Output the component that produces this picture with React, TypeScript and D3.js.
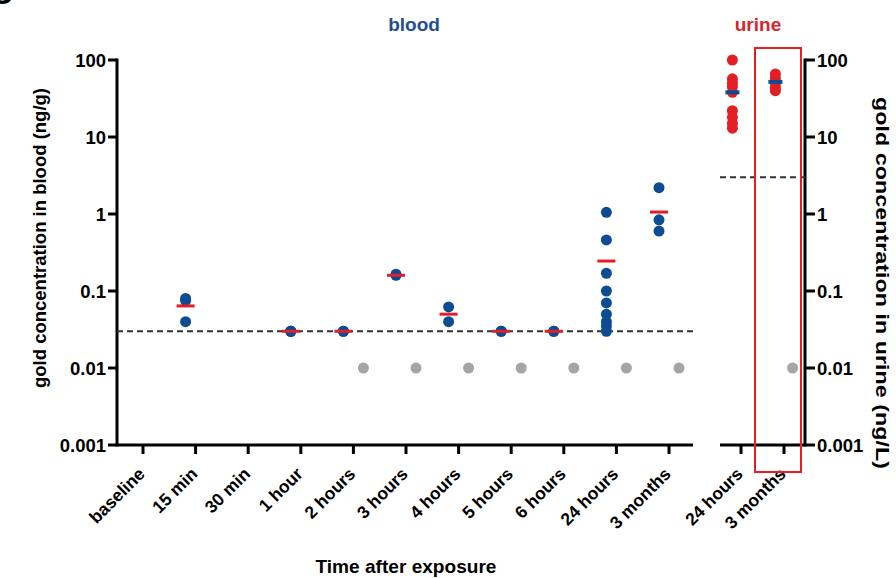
import { useEffect } from 'react';
import * as d3 from 'd3';

const bloodCategories = [
  'baseline', '15 min', '30 min', '1 hour', '2 hours', '3 hours',
  '4 hours', '5 hours', '6 hours', '24 hours', '3 months',
];
const bloodValues: number[][] = [
  [],
  [0.08, 0.075, 0.04],
  [],
  [0.03, 0.03, 0.03],
  [0.03, 0.03],
  [0.16, 0.165],
  [0.062, 0.04],
  [0.03, 0.03],
  [0.03, 0.03],
  [1.05, 0.46, 0.17, 0.1, 0.07, 0.05, 0.04, 0.035, 0.03],
  [2.2, 0.84, 0.6],
];
const bloodMeans: (number | null)[] = [null, 0.064, null, 0.03, 0.03, 0.16, 0.05, 0.03, 0.03, 0.245, 1.06];
const bloodNotDetected = ['2 hours', '3 hours', '4 hours', '5 hours', '6 hours', '24 hours', '3 months'];

const urineCategories = ['24 hours', '3 months'];
const urineValues: number[][] = [
  [100, 57, 50, 45, 38, 22, 18, 15, 13],
  [66, 58, 50, 44, 40],
];
const urineMeans = [38, 52];
const urineNotDetected = ['3 months'];

const notDetectedValue = 0.01;
const bloodLod = 0.03;
const urineLod = 3;
const yTicks = [0.001, 0.01, 0.1, 1, 10, 100];

const W = 896;
const H = 578;
const BLUE = '#0d4c93';
const RED = '#e31e24';
const GREY = '#a5a5a5';
const FONT = '"Liberation Sans", Arial, sans-serif';

export default function App() {
  useEffect(() => {
    document.body.style.margin = '0';
  }, []);

  const y = d3.scaleLog().domain([0.001, 100]).range([445, 60]);
  const xBlood = d3.scalePoint<string>().domain(bloodCategories).range([143, 669]);
  const xUrine = d3.scalePoint<string>().domain(urineCategories).range([741, 784]);
  const fmt = d3.format('~g');

  const bloodShift = xBlood.step() * 0.19;
  const urineShift = xUrine.step() * 0.2;

  const bloodLeft = 117;
  const bloodRight = 693;
  const urineLeft = 720;
  const urineRight = 805;

  return (
    <svg width={W} height={H} style={{ display: 'block', background: '#fff' }} fontFamily={FONT}>
      {/* panel letter, cut at the top edge */}
      <text x={-9} y={4} fontSize={30} fontWeight="bold">C</text>

      <text x={414} y={31} textAnchor="middle" fontSize={19} fontWeight="bold" fill="#1f4f8f">blood</text>
      <text x={758} y={31} textAnchor="middle" fontSize={19} fontWeight="bold" fill="#d9252d">urine</text>

      {/* blood panel axes */}
      <line x1={bloodLeft} x2={bloodLeft} y1={y(100) - 1.5} y2={y(0.001) + 1.5} stroke="#000" strokeWidth={3} />
      <line x1={bloodLeft} x2={bloodRight} y1={y(0.001)} y2={y(0.001)} stroke="#000" strokeWidth={3} />
      {yTicks.map((t) => (
        <g key={'ly' + t}>
          <line x1={bloodLeft - 9} x2={bloodLeft} y1={y(t)} y2={y(t)} stroke="#000" strokeWidth={3} />
          <text x={bloodLeft - 11} y={y(t)} dy="0.36em" textAnchor="end" fontSize={18.5} fontWeight="bold">{fmt(t)}</text>
        </g>
      ))}
      {bloodCategories.map((c) => (
        <g key={'bx' + c}>
          <line x1={xBlood(c)} x2={xBlood(c)} y1={y(0.001)} y2={y(0.001) + 9} stroke="#000" strokeWidth={3} />
          <text
            transform={`translate(${xBlood(c)! + 3},475) rotate(-45)`}
            textAnchor="end"
            fontSize={17.5}
            fontWeight="bold"
          >
            {c}
          </text>
        </g>
      ))}

      {/* blood limit of detection */}
      <line x1={bloodLeft} x2={bloodRight} y1={y(bloodLod)} y2={y(bloodLod)} stroke="#333" strokeWidth={2} strokeDasharray="6,4" />

      {bloodNotDetected.map((c) => (
        <circle key={'bn' + c} cx={xBlood(c)! + bloodShift} cy={y(notDetectedValue)} r={5.5} fill={GREY} />
      ))}
      {bloodCategories.map((c, i) =>
        bloodValues[i].map((v, j) => (
          <circle key={'bp' + c + j} cx={xBlood(c)! - bloodShift} cy={y(v)} r={5.5} fill={BLUE} />
        )),
      )}
      {bloodCategories.map((c, i) =>
        bloodMeans[i] == null ? null : (
          <rect key={'bm' + c} x={xBlood(c)! - bloodShift - 9} y={y(bloodMeans[i]!) - 1.5} width={18} height={3} fill={RED} />
        ),
      )}

      {/* urine panel axes */}
      <line x1={urineRight} x2={urineRight} y1={y(100) - 1.5} y2={y(0.001) + 1.5} stroke="#000" strokeWidth={3} />
      <line x1={urineLeft} x2={urineRight} y1={y(0.001)} y2={y(0.001)} stroke="#000" strokeWidth={3} />
      {yTicks.map((t) => (
        <g key={'ry' + t}>
          <line x1={urineRight} x2={urineRight + 10} y1={y(t)} y2={y(t)} stroke="#000" strokeWidth={3} />
          <text x={urineRight + 12} y={y(t)} dy="0.36em" textAnchor="start" fontSize={18.5} fontWeight="bold">{fmt(t)}</text>
        </g>
      ))}
      {urineCategories.map((c) => (
        <g key={'ux' + c}>
          <line x1={xUrine(c)} x2={xUrine(c)} y1={y(0.001)} y2={y(0.001) + 9} stroke="#000" strokeWidth={3} />
          <text
            transform={`translate(${xUrine(c)! + 3},475) rotate(-45)`}
            textAnchor="end"
            fontSize={17.5}
            fontWeight="bold"
          >
            {c}
          </text>
        </g>
      ))}

      <line x1={urineLeft} x2={urineRight} y1={y(urineLod)} y2={y(urineLod)} stroke="#333" strokeWidth={2} strokeDasharray="6,4" />

      {urineNotDetected.map((c) => (
        <circle key={'un' + c} cx={xUrine(c)! + urineShift} cy={y(notDetectedValue)} r={5.5} fill={GREY} />
      ))}
      {urineCategories.map((c, i) =>
        urineValues[i].map((v, j) => (
          <circle key={'up' + c + j} cx={xUrine(c)! - urineShift} cy={y(v)} r={5.5} fill={RED} />
        )),
      )}
      {urineCategories.map((c, i) => (
        <rect key={'um' + c} x={xUrine(c)! - urineShift - 7} y={y(urineMeans[i]) - 2} width={14} height={4} fill={BLUE} />
      ))}

      {/* highlight box */}
      <rect x={755} y={48} width={46} height={424} fill="none" stroke="#ec1c24" strokeWidth={2} />

      {/* axis titles */}
      <text
        transform="translate(46,238) rotate(-90)"
        textAnchor="middle"
        fontSize={18}
        fontWeight="bold"
        textLength={300}
        lengthAdjust="spacingAndGlyphs"
      >
        gold concentration in blood (ng/g)
      </text>
      <text
        transform="translate(876,283) rotate(90)"
        textAnchor="middle"
        fontSize={18}
        fontWeight="bold"
        textLength={372}
        lengthAdjust="spacingAndGlyphs"
      >
        gold concentration in urine (ng/L)
      </text>
      <text
        x={406}
        y={573}
        textAnchor="middle"
        fontSize={18}
        fontWeight="bold"
        textLength={181}
        lengthAdjust="spacingAndGlyphs"
      >
        Time after exposure
      </text>
    </svg>
  );
}
